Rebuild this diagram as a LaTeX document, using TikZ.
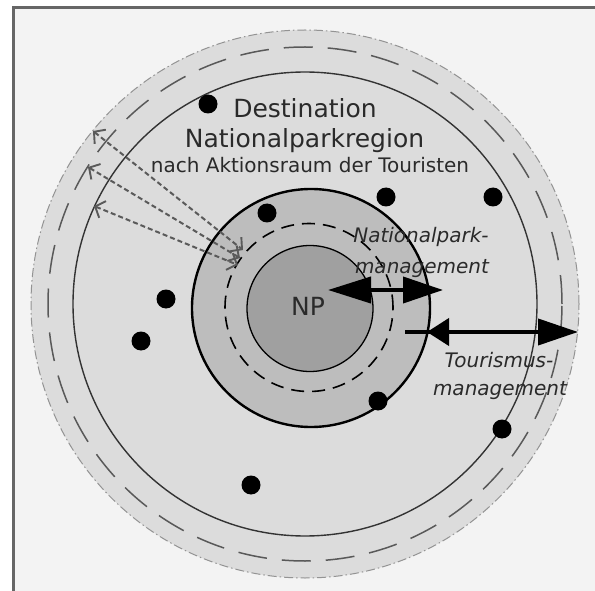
\documentclass[tikz,border=0pt]{standalone}
\usepackage{fontspec}
\setmainfont{DejaVu Sans}
\usetikzlibrary{arrows.meta}
\definecolor{bgc}{HTML}{F3F3F3}
\definecolor{framec}{HTML}{666666}
\definecolor{ringA}{HTML}{DCDCDC}
\definecolor{ringB}{HTML}{BDBDBD}
\definecolor{ringC}{HTML}{A0A0A0}
\definecolor{txt}{HTML}{2A2A2A}
\definecolor{dashc}{HTML}{5A5A5A}
\tikzset{
  dot/.style={circle, fill=black, draw=none, minimum size=19pt, inner sep=0pt},
  bigtext/.style={font=\fontsize{25}{28}\selectfont, text=txt, anchor=base, inner sep=0pt},
  smalltext/.style={font=\fontsize{20}{24}\selectfont, text=txt, anchor=base, inner sep=0pt},
  itext/.style={font=\fontsize{20}{24}\selectfont\itshape, text=txt, anchor=base, inner sep=0pt},
  bigarrow/.style={line width=4pt, {Triangle[length=43pt,width=26pt]}-{Triangle[length=40pt,width=26pt]}},
  rightarrow/.style={line width=4pt, -{Triangle[length=40pt,width=26pt]}},
  stubhead/.style={line width=4pt, -{Triangle[length=22pt,width=27pt]}},
  flowarrow/.style={dashc, line width=2pt, dash pattern=on 5pt off 3pt,
     {Straight Barb[length=8pt,width=18pt,line width=1.9pt]}-{Straight Barb[length=8pt,width=18pt,line width=1.9pt]}},
}
\begin{document}
\begin{tikzpicture}[x=1pt,y=-1pt]
\useasboundingbox (0,0) rectangle (595,591);
\fill[white] (0,0) rectangle (595,591);
\fill[bgc] (13,8) rectangle (595,591);
\draw[framec, line width=3pt] (13,591) -- (13,8) -- (595,8);

% outer region
\fill[ringA] (305,304) circle (274pt);
\draw[gray!85, line width=1pt, dash pattern=on 9pt off 3pt on 1.5pt off 3pt] (305,304) circle (274pt);
\draw[black!65, line width=1.5pt, dash pattern=on 29pt off 15pt] (305,304) circle (257pt);
\draw[black!80, line width=1.4pt] (305,304) circle (232pt);

% middle region
\fill[ringB] (311,308) circle (119pt);
\draw[black, line width=2.4pt] (311,308) circle (119pt);
\draw[black, line width=1.6pt, dash pattern=on 13pt off 8pt] (309,307.5) circle (84pt);

% core
\fill[ringC] (310,308.5) circle (63pt);
\draw[black, line width=1.3pt] (310,308.5) circle (63pt);
\node[bigtext] (np) at (308,315) {NP};

% dots
\node[dot] (d1) at (208,104) {};
\node[dot] (d2) at (267,213) {};
\node[dot] (d3) at (386,197) {};
\node[dot] (d4) at (493,197) {};
\node[dot] (d5) at (166,299) {};
\node[dot] (d6) at (141,341) {};
\node[dot] (d7) at (251,485) {};
\node[dot] (d8) at (378,401) {};
\node[dot] (d9) at (502,429) {};

% title texts
\node[bigtext] (dest) at (305,118) {Destination};
\node[bigtext] (npr) at (304.5,148) {Nationalparkregion};
\node[smalltext] (akt) at (310,173) {nach Aktionsraum der Touristen};

% tourist movement arrows
\coordinate (a1) at (93,131);  \coordinate (b1) at (243,250);
\coordinate (a2) at (88,167);  \coordinate (b2) at (240,258);
\coordinate (a3) at (94,206);  \coordinate (b3) at (238,265);
\draw[flowarrow] (a1) -- (b1);
\draw[flowarrow] (a2) -- (b2);
\draw[flowarrow] (a3) -- (b3);

% management labels
\node[itext] (npm1) at (421,243) {Nationalpark-};
\node[itext] (npm2) at (422,273) {management};
\node[itext] (tm1) at (499,367) {Tourismus-};
\node[itext] (tm2) at (500,395) {management};

% management arrows
\coordinate (nl) at (328,290); \coordinate (nr) at (443,290);
\draw[bigarrow] (nl) -- (nr);
\coordinate (tl) at (405,332); \coordinate (tr) at (578,332);
\coordinate (tb) at (449,332); \coordinate (tk) at (427,332);
\draw[rightarrow] (tl) -- (tr);
\draw[stubhead] (tb) -- (tk);
\end{tikzpicture}
\end{document}
